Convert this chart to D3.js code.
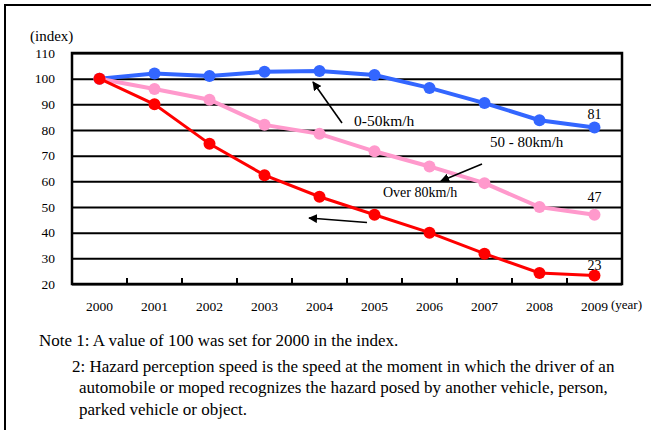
<!DOCTYPE html>
<html>
<head>
<meta charset="utf-8">
<script src="https://cdn.jsdelivr.net/npm/d3@7"></script>
<style>
  body { margin: 0; background: #fff; }
  svg text { font-family: 'Liberation Serif'; fill: #000; }
</style>
</head>
<body>
<div id="chart"></div>
<script>
// values
var years = ["2000", "2001", "2002", "2003", "2004", "2005", "2006", "2007", "2008", "2009"];
var low  = [100, 102, 101, 102.7, 103, 101.4, 96.4, 90.5, 83.8, 81];     // 0-50km/h
var mid  = [100, 96, 91.8, 82, 78.5, 71.7, 65.8, 59.3, 50, 47];          // 50-80km/h
var high = [100, 90, 74.6, 62.4, 54, 47, 40, 31.8, 24.3, 23.3];          // over 80km/h
var yTicks = [20, 30, 40, 50, 60, 70, 80, 90, 100, 110];
var notes = [
  "Note 1: A value of 100 was set for 2000 in the index.",
  "2: Hazard perception speed is the speed at the moment in which the driver of an",
  "automobile or moped recognizes the hazard posed by another vehicle, person,",
  "parked vehicle or object."
];

var W = 651, H = 430;
var plot = { left: 72, top: 53, right: 622, bottom: 284 };
var FONT = "'Liberation Serif'";

var svg = d3.select("#chart").append("svg")
    .attr("width", W)
    .attr("height", H);

// outer frame (only top and left are inside the picture)
svg.append("path")
   .attr("d", "M5,431V5H652")
   .attr("fill", "none")
   .attr("stroke", "#000")
   .attr("stroke-width", 2);

var x = d3.scaleBand().domain(years).range([plot.left, plot.right]).padding(0),
    y = d3.scaleLinear().domain([20, 110]).range([plot.bottom, plot.top]);
var cx = function(i) { return x(years[i]) + x.bandwidth() / 2; };

// horizontal grid + y labels
var yAxis = svg.append("g")
   .attr("transform", "translate(" + plot.left + ",0)")
   .call(d3.axisLeft(y).tickValues(yTicks).tickSize(-(plot.right - plot.left)).tickPadding(17));
yAxis.attr("font-family", null);
yAxis.select(".domain").remove();
yAxis.selectAll(".tick line").attr("stroke", "#000").attr("stroke-width", 2);
yAxis.selectAll(".tick text")
     .style("font-family", FONT)
     .style("font-size", "13.5px");

// x labels
var xAxis = svg.append("g")
   .attr("transform", "translate(0," + plot.bottom + ")")
   .call(d3.axisBottom(x).tickSize(0));
xAxis.attr("font-family", null);
xAxis.select(".domain").remove();
xAxis.selectAll(".tick text")
     .attr("y", 27)
     .attr("dy", 0)
     .style("font-family", FONT)
     .style("font-size", "13.5px");

// inward tick marks on band edges
svg.append("g").selectAll("line")
   .data(years.slice(1))
   .enter().append("line")
   .attr("x1", function(d) { return x(d); })
   .attr("x2", function(d) { return x(d); })
   .attr("y1", plot.bottom)
   .attr("y2", plot.bottom - 6)
   .attr("stroke", "#000")
   .attr("stroke-width", 2);

// plot border
svg.append("rect")
   .attr("x", plot.left).attr("y", plot.top)
   .attr("width", plot.right - plot.left)
   .attr("height", plot.bottom - plot.top)
   .attr("fill", "none")
   .attr("stroke", "#000")
   .attr("stroke-width", 2.5);

svg.append("text").attr("x", 30).attr("y", 41)
   .style("font-family", FONT).style("font-size", "15px").text("(index)");
svg.append("text").attr("x", 611).attr("y", 309)
   .style("font-family", FONT).style("font-size", "13px").text("(year)");

// series
var series = [
  { values: low,  color: "#3366ff", width: 4, labelDy: -8 },
  { values: mid,  color: "#ff99cc", width: 4, labelDy: -13 },
  { values: high, color: "#ff0000", width: 3, labelDy: -6 }
];
var line = d3.line()
    .x(function(d, i) { return cx(i); })
    .y(function(d) { return y(d); });

series.forEach(function(s) {
  var g = svg.append("g");
  g.append("path")
   .datum(s.values)
   .attr("d", line)
   .attr("fill", "none")
   .attr("stroke", s.color)
   .attr("stroke-width", s.width);
  g.selectAll("circle")
   .data(s.values)
   .enter().append("circle")
   .attr("cx", function(d, i) { return cx(i); })
   .attr("cy", function(d) { return y(d); })
   .attr("r", 6)
   .attr("fill", s.color);
  var last = s.values.length - 1;
  g.append("text")
   .attr("x", cx(last))
   .attr("y", y(s.values[last]) + s.labelDy)
   .attr("text-anchor", "middle")
   .style("font-family", FONT)
   .style("font-size", "14px")
   .text(d3.format(".0f")(s.values[last]));
});

// annotations
svg.append("defs").append("marker")
   .attr("id", "head")
   .attr("viewBox", "0 0 10 10")
   .attr("refX", 9).attr("refY", 5)
   .attr("markerWidth", 9).attr("markerHeight", 9)
   .attr("markerUnits", "userSpaceOnUse")
   .attr("orient", "auto")
   .append("path").attr("d", "M0,0L10,5L0,10z").attr("fill", "#000");

var arrows = [
  [342, 123, 313, 82],
  [482, 164, 441, 181],
  [367, 222.5, 309, 218]
];
svg.append("g").selectAll("line")
   .data(arrows)
   .enter().append("line")
   .attr("x1", function(d) { return d[0]; })
   .attr("y1", function(d) { return d[1]; })
   .attr("x2", function(d) { return d[2]; })
   .attr("y2", function(d) { return d[3]; })
   .attr("stroke", "#000")
   .attr("stroke-width", 1.6)
   .attr("marker-end", "url(#head)");

var callouts = [
  { text: "0-50km/h", x: 354, y: 126, size: 15.5 },
  { text: "50 - 80km/h", x: 490, y: 147, size: 15 },
  { text: "Over 80km/h", x: 383, y: 197, size: 14 }
];
svg.append("g").selectAll("text")
   .data(callouts)
   .enter().append("text")
   .attr("x", function(d) { return d.x; })
   .attr("y", function(d) { return d.y; })
   .style("font-family", FONT)
   .style("font-size", function(d) { return d.size + "px"; })
   .text(function(d) { return d.text; });

// notes under the chart
var noteX = [39, 72, 79, 79],
    noteY = [346, 372, 393, 415];
svg.append("g").selectAll("text")
   .data(notes)
   .enter().append("text")
   .attr("x", function(d, i) { return noteX[i]; })
   .attr("y", function(d, i) { return noteY[i]; })
   .style("font-family", FONT)
   .style("font-size", "17px")
   .text(function(d) { return d; });
</script>
</body>
</html>
